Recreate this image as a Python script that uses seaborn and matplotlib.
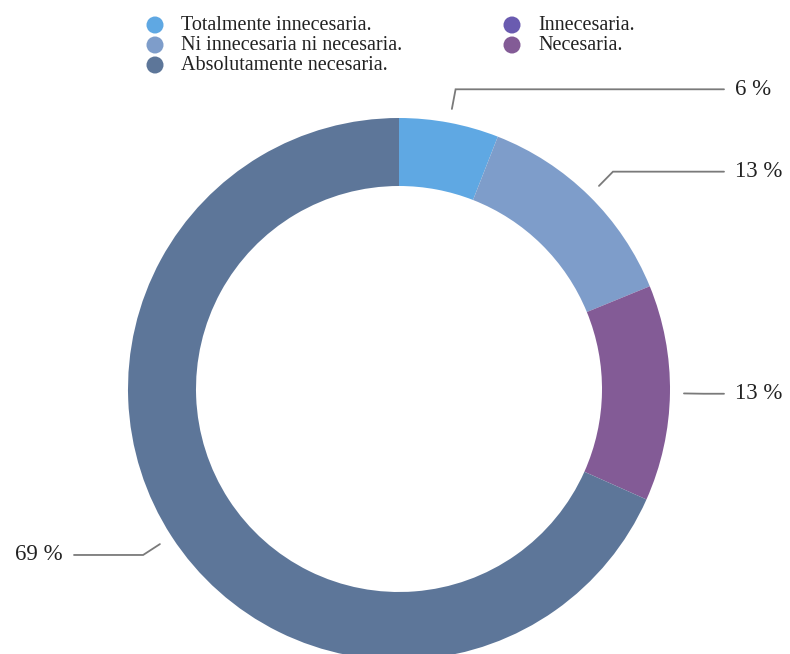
import numpy as np
import matplotlib
matplotlib.use("Agg")
import matplotlib.pyplot as plt
import seaborn as sns

# Survey answers and their rounded shares (percent)
categories = [
    "Totalmente innecesaria.",
    "Innecesaria.",
    "Ni innecesaria ni necesaria.",
    "Necesaria.",
    "Absolutamente necesaria.",
]
shares = [6, 0, 13, 13, 69]
share_labels = ["6 %", "0 %", "13 %", "13 %", "69 %"]
hex_colors = ["#5fa8e3", "#6a5bb0", "#7e9dca", "#835b96", "#5d7699"]

sns.set_theme(style="white")
plt.rcParams["font.family"] = ["Liberation Serif", "DejaVu Serif"]
palette = sns.color_palette(hex_colors)

W, H = 790, 654
fig = plt.figure(figsize=(W / 100, H / 100), dpi=100)
ax = fig.add_axes([0, 0, 1, 1])

cx, cy = 399, H - 389
r_out, ring = 271, 68

wedges, _ = ax.pie(
    shares,
    colors=palette,
    startangle=90,
    counterclock=False,
    center=(cx, cy),
    radius=r_out,
    wedgeprops=dict(width=ring, linewidth=0),
    frame=True,
)
ax.set_xlim(0, W)
ax.set_ylim(0, H)
ax.set_aspect("equal")
ax.axis("off")

# Leader lines and percentage labels
line_col = "#7a7a7a"
text_col = "#222222"
for w, val, lab in zip(wedges, shares, share_labels):
    if val <= 0:
        continue
    mid = np.deg2rad((w.theta1 + w.theta2) / 2)
    dx, dy = np.cos(mid), np.sin(mid)
    x0, y0 = cx + 285 * dx, cy + 285 * dy
    x1, y1 = cx + 305 * dx, cy + 305 * dy
    if dx >= 0:
        xe, xt, ha = 724, 735, "left"
    else:
        xe, xt, ha = 74, 63, "right"
    ax.plot([x0, x1, xe], [y0, y1, y1], color=line_col, lw=1.3,
            solid_joinstyle="miter", clip_on=False)
    ax.text(xt, y1, lab, ha=ha, va="center", fontsize=16.5, color=text_col)

# Legend in two columns
legend_slots = {
    "Totalmente innecesaria.": (155, 25),
    "Ni innecesaria ni necesaria.": (155, 45),
    "Absolutamente necesaria.": (155, 65),
    "Innecesaria.": (512, 25),
    "Necesaria.": (512, 45),
}
for cat, col in zip(categories, palette):
    mx, my = legend_slots[cat]
    ax.scatter([mx], [H - my], s=150, color=col, edgecolor="none", clip_on=False)
    ax.text(mx + 26, H - my, cat, ha="left", va="center", fontsize=14.5,
            color=text_col)

fig.savefig("out.png", dpi=100)
